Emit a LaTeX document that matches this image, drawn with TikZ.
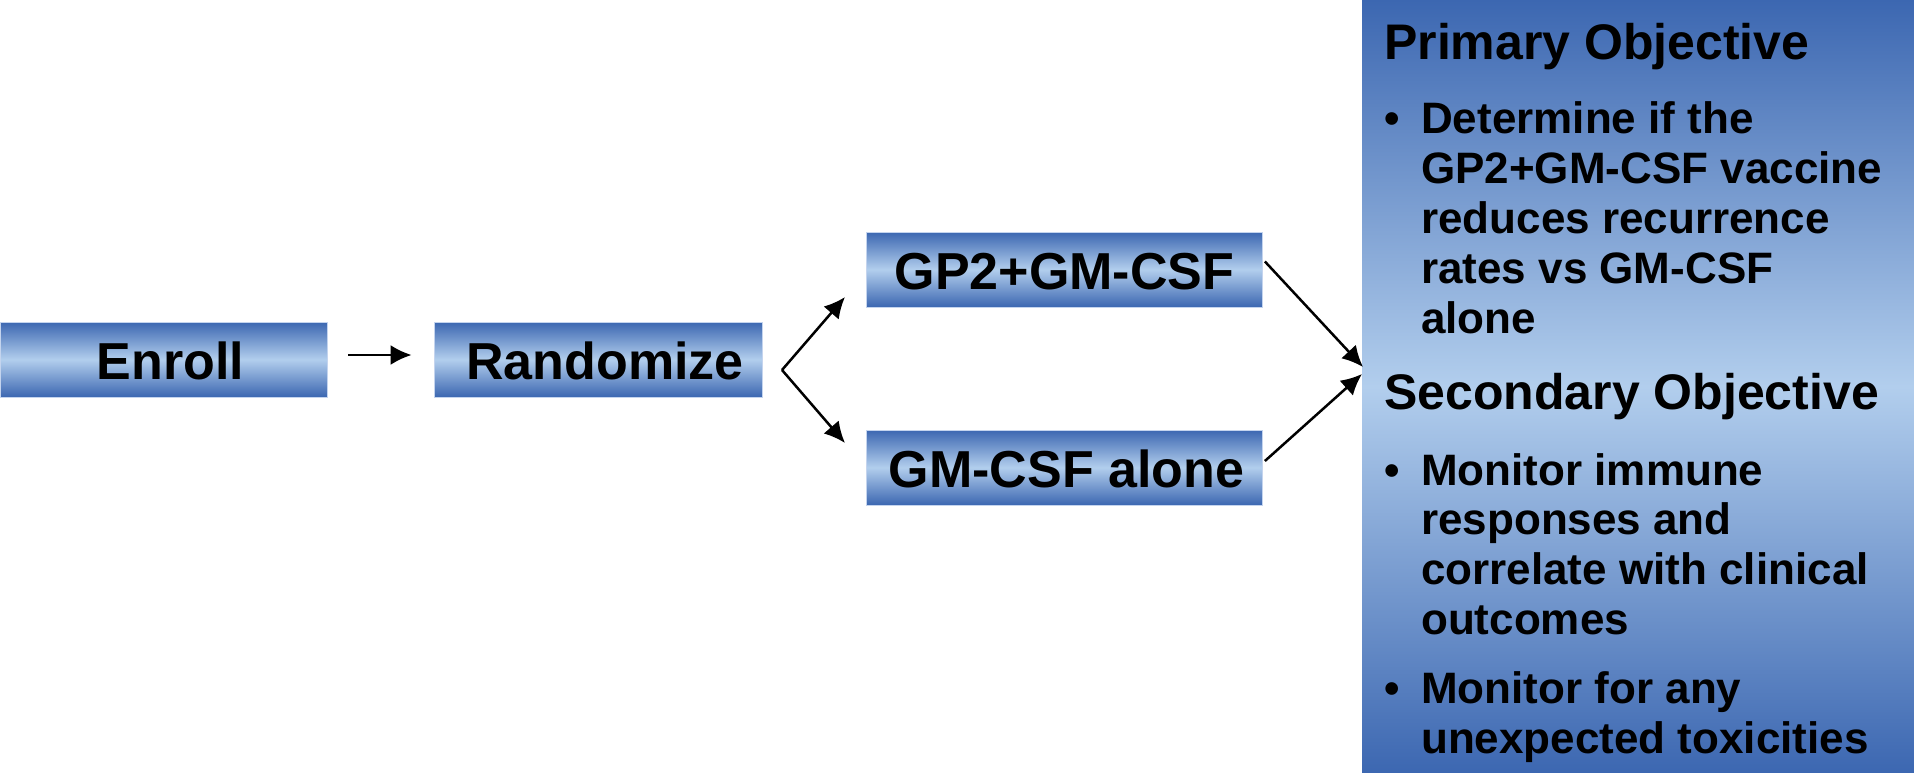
\documentclass[tikz,border=0pt]{standalone}
\usepackage{fontspec}
\setmainfont{Liberation Sans}
\usetikzlibrary{arrows.meta}
\definecolor{bdark}{RGB}{60,103,177}
\definecolor{blight}{RGB}{178,206,237}
\definecolor{bedge}{RGB}{196,212,238}
\tikzset{
  armbox/.style={inner sep=0pt, minimum height=75pt, text height=40pt, text depth=0pt,
    top color=bdark, bottom color=bdark, middle color=blight, draw=bedge, line width=0.8pt,
    font=\fontsize{52}{52}\selectfont\bfseries},
  conn/.style={line width=2.5pt, -{Latex[length=21pt,width=20pt]}},
  head/.style={anchor=base west, inner sep=0pt, font=\fontsize{50}{50}\selectfont\bfseries},
  btxt/.style={anchor=base west, inner sep=0pt, font=\fontsize{44}{44}\selectfont\bfseries},
}
\begin{document}
\begin{tikzpicture}[x=1pt,y=-1pt]
\useasboundingbox (0,0) rectangle (1914,773);
\fill[white] (0,0) rectangle (1914,773);
% objectives panel
\node[inner sep=0pt, minimum width=552pt, minimum height=773pt, top color=bdark, bottom color=bdark, middle color=blight] (obj) at (1638,386.5) {};
% arm boxes
\node[armbox, minimum width=327pt] (enroll) at (163.5,359.5) {\hspace{14pt}Enroll};
\node[armbox, minimum width=328pt] (rand) at (598,359.5) {\hspace{14pt}Randomize};
\node[armbox, minimum width=396pt] (gp2) at (1064.5,269.5) {GP2+GM-CSF};
\node[armbox, minimum width=396pt] (gm) at (1064.5,467.5) {\hspace{4pt}GM-CSF alone};
% connectors
\draw[conn] ([xshift=21pt,yshift=4.5pt]enroll.east) -- ([xshift=-22pt,yshift=4.5pt]rand.west);
\coordinate (br) at (782,370);
\coordinate (tipup) at (845,297);
\coordinate (tipdn) at (845,443);
\draw[conn] (br) -- (tipup);
\draw[conn] (br) -- (tipdn);
\coordinate (inup) at (1363,367);
\coordinate (indn) at (1362,374);
\draw[conn] ([yshift=8pt,xshift=2pt]gp2.east) -- (inup);
\draw[conn] ([yshift=6.5pt,xshift=2pt]gm.east) -- (indn);
% texts
\node[head] (h1) at (1384,60) {Primary Objective};
\node[btxt] (b1) at (1384,134) {•};
\node[btxt] (t1) at (1421,134) {Determine if the};
\node[btxt] (t2) at (1421,183) {GP2+GM-CSF vaccine};
\node[btxt] (t3) at (1421,233) {reduces recurrence};
\node[btxt] (t4) at (1421,283) {rates vs GM-CSF};
\node[btxt] (t5) at (1421,333) {alone};
\node[head] (h2) at (1384,409) {Secondary Objective};
\node[btxt] (b2) at (1384,485) {•};
\node[btxt] (s1) at (1421,485) {Monitor immune};
\node[btxt] (s2) at (1421,534) {responses and};
\node[btxt] (s3) at (1421,584) {correlate with clinical};
\node[btxt] (s4) at (1421,634) {outcomes};
\node[btxt] (b3) at (1384,703) {•};
\node[btxt] (s5) at (1421,703) {Monitor for any};
\node[btxt] (s6) at (1421,753) {unexpected toxicities};
\end{tikzpicture}
\end{document}
